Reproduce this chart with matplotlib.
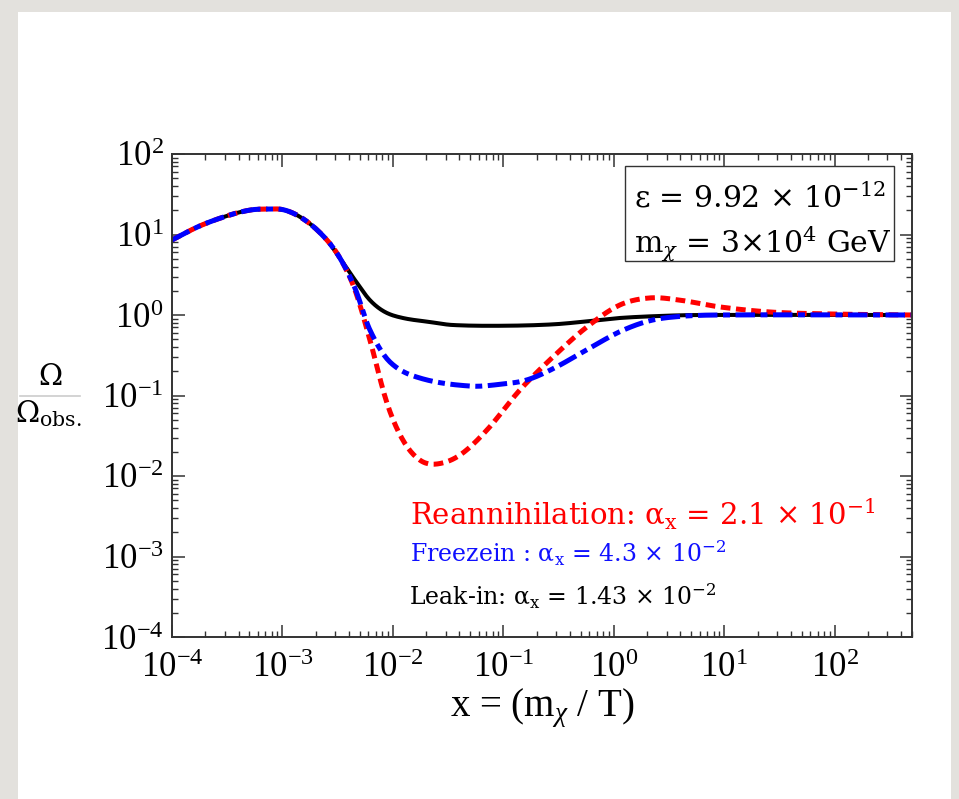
import numpy as np
import matplotlib
matplotlib.use("Agg")
import matplotlib.pyplot as plt
from matplotlib.patches import Rectangle
from matplotlib.lines import Line2D
from matplotlib.ticker import LogLocator, NullFormatter

plt.rcParams['font.family'] = ['Liberation Serif', 'DejaVu Serif']
plt.rcParams['mathtext.fontset'] = 'custom'
plt.rcParams['mathtext.rm'] = 'Liberation Serif'
plt.rcParams['mathtext.it'] = 'Liberation Serif:italic'
plt.rcParams['mathtext.bf'] = 'Liberation Serif:bold'
plt.rcParams['lines.scale_dashes'] = False

# shared part of all three curves (x = m/T, Omega/Omega_obs)
x_common = [1.0e-4, 1.79e-4, 3.35e-4, 5.08e-4, 6.95e-4, 1.05e-3, 1.6e-3, 2.43e-3, 3.31e-3]
y_common = [8.55, 12.8, 17.5, 20.1, 20.7, 20.1, 15.1, 9.06, 5.11]

# leak-in (black)
x_leak = [4.53e-3, 6.19e-3, 8.47e-3, 1.23e-2, 2.16e-2, 3.49e-2, 9.89e-2, 0.281, 0.607, 1.13, 2.61, 6.0, 500]
y_leak = [2.72, 1.53, 1.09, 0.918, 0.818, 0.751, 0.735, 0.765, 0.841, 0.918, 0.973, 1.0, 1.0]

# freezein (blue)
x_free = [4.53e-3, 6.19e-3, 9.39e-3, 1.75e-2, 4.98e-2, 9.89e-2, 0.163, 0.281, 0.570, 1.13, 2.12, 3.95, 9.1, 500]
y_free = [2.16, 0.651, 0.261, 0.165, 0.131, 0.139, 0.156, 0.215, 0.37, 0.62, 0.85, 0.96, 1.0, 1.0]

# reannihilation (red)
x_rean = [4.53e-3, 6.19e-3, 8.83e-3, 1.23e-2, 1.75e-2, 2.50e-2, 4.04e-2, 7.10e-2, 0.141, 0.281, 0.570, 1.13, 2.12, 3.95, 9.1, 25.8, 90, 500]
y_rean = [2.05, 0.489, 0.0807, 0.028, 0.0158, 0.0141, 0.0182, 0.0373, 0.117, 0.301, 0.710, 1.33, 1.63, 1.53, 1.26, 1.09, 1.03, 1.0]

xticks = [1e-4, 1e-3, 1e-2, 1e-1, 1e0, 1e1, 1e2]
yticks = [1e-4, 1e-3, 1e-2, 1e-1, 1e0, 1e1, 1e2]


def smooth(xs, ys, n=500):
    # cubic hermite through the read points, in log-log space
    lx = np.log10(xs)
    ly = np.log10(ys)
    k = len(lx)
    m = np.zeros(k)
    for i in range(k):
        if i == 0:
            m[i] = (ly[1] - ly[0]) / (lx[1] - lx[0])
        elif i == k - 1:
            m[i] = (ly[-1] - ly[-2]) / (lx[-1] - lx[-2])
        else:
            m[i] = (ly[i + 1] - ly[i - 1]) / (lx[i + 1] - lx[i - 1])
    t = np.linspace(lx[0], lx[-1], n)
    out = np.empty(n)
    for j, tt in enumerate(t):
        i = min(max(np.searchsorted(lx, tt) - 1, 0), k - 2)
        h = lx[i + 1] - lx[i]
        s = (tt - lx[i]) / h
        out[j] = ((2 * s**3 - 3 * s**2 + 1) * ly[i] + (s**3 - 2 * s**2 + s) * h * m[i]
                  + (-2 * s**3 + 3 * s**2) * ly[i + 1] + (s**3 - s**2) * h * m[i + 1])
    return 10**t, 10**out


fig = plt.figure(figsize=(9.59, 7.99), dpi=100)
fig.patch.set_facecolor('#e3e1dd')
fig.add_artist(Rectangle((18 / 959, 0), (951 - 18) / 959, (799 - 12) / 799,
                         transform=fig.transFigure, facecolor='white',
                         edgecolor='none', zorder=0))

ax = fig.add_axes([172 / 959, 1 - 637 / 799, 740 / 959, 483 / 799])
ax.set_xscale('log')
ax.set_yscale('log')
ax.set_xlim(1e-4, 500)
ax.set_ylim(1e-4, 1e2)

bx, by = smooth(x_common + x_leak, y_common + y_leak)
ax.plot(bx, by, color='black', lw=2.9, solid_capstyle='butt')
rx, ry = smooth(x_common + x_rean, y_common + y_rean)
ax.plot(rx, ry, color='#ff0000', lw=3.6, dashes=(7, 4))
fx, fy = smooth(x_common + x_free, y_common + y_free)
ax.plot(fx, fy, color='#0000ff', lw=3.6, dashes=(14, 4, 5, 4))

ax.set_xticks(xticks)
ax.set_yticks(yticks)
ax.xaxis.set_minor_locator(LogLocator(base=10, subs=np.arange(2, 10), numticks=20))
ax.yaxis.set_minor_locator(LogLocator(base=10, subs=np.arange(2, 10), numticks=20))
ax.xaxis.set_minor_formatter(NullFormatter())
ax.yaxis.set_minor_formatter(NullFormatter())
ax.tick_params(which='both', direction='in', top=True, right=True, color='#333333')
ax.tick_params(which='major', length=9, width=1.1, labelsize=25)
ax.tick_params(axis='x', which='major', pad=11)
ax.tick_params(axis='y', which='major', pad=6)
ax.tick_params(which='minor', length=4.5, width=1.0)
for s in ax.spines.values():
    s.set_linewidth(1.4)
    s.set_color('#333333')

# parameter box
ax.add_patch(Rectangle((0.612, 0.778), 0.364, 0.197, transform=ax.transAxes,
                       facecolor='white', edgecolor='#333333', lw=1.0, zorder=5))
ax.text(0.625, 0.890, r'ε = 9.92 × 10$^{-12}$', transform=ax.transAxes,
        family='DejaVu Serif', math_fontfamily='dejavuserif', fontsize=21.5, zorder=6)
ax.text(0.625, 0.795, r'm$_\chi$ = 3×10$^{4}$ GeV', transform=ax.transAxes,
        family='DejaVu Serif', math_fontfamily='dejavuserif', fontsize=21.5, zorder=6)

# process labels
ax.text(0.322, 0.232, r'Reannihilation: α$_\mathrm{x}$ = 2.1 × 10$^{-1}$', transform=ax.transAxes,
        family='DejaVu Serif', math_fontfamily='dejavuserif', fontsize=21, color='#ff0000')
ax.text(0.322, 0.155, r'Freezein : α$_\mathrm{x}$ = 4.3 × 10$^{-2}$', transform=ax.transAxes,
        family='DejaVu Serif', math_fontfamily='dejavuserif', fontsize=17, color='#1010ff')
ax.text(0.320, 0.066, r'Leak-in: α$_\mathrm{x}$ = 1.43 × 10$^{-2}$', transform=ax.transAxes,
        family='DejaVu Serif', math_fontfamily='dejavuserif', fontsize=17, color='black')

# axis labels
fig.text(542 / 959, 1 - 708 / 799, r'x = (m$_\chi$ / T)', ha='center', va='center',
         family='Liberation Serif', fontsize=28)
fig.text(50 / 959, 1 - 377 / 799, 'Ω', ha='center', va='center',
         family='DejaVu Serif', fontsize=21)
fig.add_artist(Line2D([20 / 959, 80 / 959], [1 - 396 / 799, 1 - 396 / 799],
                      transform=fig.transFigure, color='#cccccc', lw=1.2))
fig.text(48 / 959, 1 - 414 / 799, r'Ω$_\mathrm{obs.}$', ha='center', va='center',
         family='DejaVu Serif', math_fontfamily='dejavuserif', fontsize=21)

fig.savefig('out.png', dpi=100, facecolor=fig.get_facecolor())
